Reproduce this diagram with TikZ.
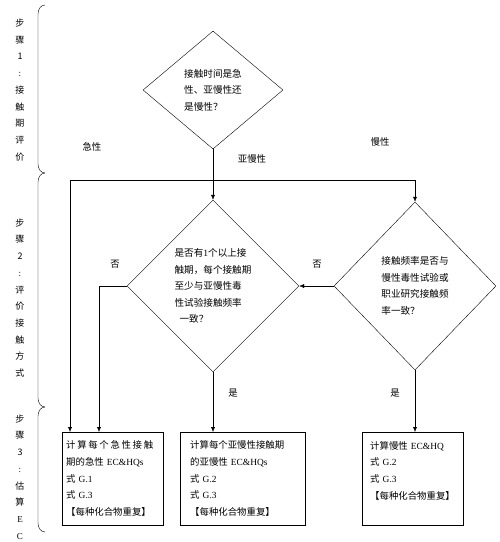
\documentclass[tikz,border=0pt]{standalone}
\usepackage{fontspec}
\setmainfont{Liberation Serif}
\newfontfamily\cjk{Noto Sans CJK SC}
\usetikzlibrary{
  shapes.geometric,
  arrows.meta,
  positioning,
  calc
}

\begin{document}
\begin{tikzpicture}[x=1pt, y=-1pt,
  decision/.style={draw, diamond, aspect=1, inner sep=0pt, align=left, font=\cjk\fontsize{9.6}{16.5}\selectfont},
  calcbox/.style={draw, rectangle, anchor=north west, align=left, minimum height=93pt, font=\cjk\fontsize{9.4}{16.7}\selectfont},
  lbl/.style={font=\cjk\fontsize{9.4}{12}\selectfont, inner sep=1pt},
  steplbl/.style={align=center, font=\cjk\fontsize{9}{16.7}\selectfont, inner sep=0pt},
  ptr/.style={-{Latex[length=5pt,width=4pt]}, thin}
]
  \useasboundingbox (0,0) rectangle (500,542);

  % step brackets
  \foreach \ya/\yb in {5/173, 173/407, 407/532} {
    \draw (45,\ya) to[out=180, in=90] (38,\ya+9) -- (38,\yb-9) to[out=270, in=180] (45,\yb);
  }
  \node[steplbl] (s1) at (20,90) {步\\骤\\1\\{\rmfamily :}\\接\\触\\期\\评\\价};
  \node[steplbl] (s2) at (20,298) {步\\骤\\2\\{\rmfamily :}\\评\\价\\接\\触\\方\\式};
  \node[steplbl] (s3) at (20,477) {步\\骤\\3\\{\rmfamily :}\\估\\算\\{\rmfamily E}\\{\rmfamily C}};

  % decisions
  \node[decision, minimum width=140pt, minimum height=118pt] (d1) at (213,90)
    {接触时间是急\\性、亚慢性还\\是慢性？};
  \node[decision, minimum width=172pt, minimum height=172pt] (d2) at (213,286)
    {是否有{\rmfamily 1}个以上接\\触期，每个接触期\\至少与亚慢性毒\\性试验接触频率\\\hspace*{5pt}一致？};
  \node[decision, minimum width=162pt, minimum height=168pt] (d3) at (415,286)
    {接触频率是否与\\慢性毒性试验或\\职业研究接触频\\率一致？};

  % result boxes
  \node[calcbox, text width=93pt, inner xsep=4pt] (box1) at (62,432)
    {{\addfontfeature{LetterSpace=18}计算每个急性接触}\\期的急性 {\rmfamily EC\&HQs}\\式 {\rmfamily G.1}\\式 {\rmfamily G.3}\\【每种化合物重复】};
  \node[calcbox, text width=105pt, inner xsep=10pt] (box2) at (180,432)
    {计算每个亚慢性接触期\\的亚慢性 {\rmfamily EC\&HQs}\\式 {\rmfamily G.2}\\式 {\rmfamily G.3}\\【每种化合物重复】};
  \node[calcbox, text width=85pt, inner xsep=8pt] (box3) at (362,432)
    {计算慢性 {\rmfamily EC\&HQ}\\式 {\rmfamily G.2}\\式 {\rmfamily G.3}\\【每种化合物重复】\\ ~};

  % branches from the first question
  \coordinate (jl) at (70,180);
  \coordinate (jr) at (d3.north |- jl);
  \coordinate (jm) at (d1.south |- jl);
  \coordinate (b1in) at ([xshift=37pt]box1.north west);
  \draw (d1.south) -- (jm);
  \draw (jl) -- (jr);
  \draw[ptr] (jl) -- (jl |- box1.north);
  \draw[ptr] (jm) -- (d2.north);
  \draw[ptr] (jr) -- (d3.north);

  % branches from the second and third questions
  \draw[ptr] (d2.west) -| (b1in);
  \draw[ptr] (d3.west) -- (d2.east);
  \draw[ptr] (d2.south) -- (d2.south |- box2.north);
  \draw[ptr] (d3.south) -- (d3.south |- box3.north);

  % labels
  \node[lbl] (acute) at (92,147) {急性};
  \node[lbl] (subch) at (252,159) {亚慢性};
  \node[lbl] (chron) at (380,142) {慢性};
  \node[lbl] (no2) at (115,264) {否};
  \node[lbl] (no3) at (317,264) {否};
  \node[lbl] (yes2) at (233,393) {是};
  \node[lbl] (yes3) at (395,393) {是};
\end{tikzpicture}
\end{document}
